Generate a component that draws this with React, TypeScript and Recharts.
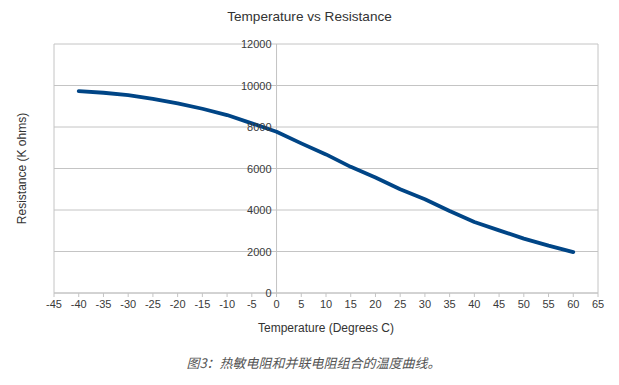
import React from "react";
import { LineChart, Line, XAxis, YAxis, CartesianGrid, ReferenceLine } from "recharts";

// temperature (degrees C) and resistance (K ohms)
const temps = [-40, -35, -30, -25, -20, -15, -10, -5, 0, 5, 10, 15, 20, 25, 30, 35, 40, 45, 50, 55, 60];
const resistance = [9730, 9650, 9540, 9360, 9140, 8880, 8575, 8175, 7770, 7210, 6680, 6080, 5570, 5000, 4520, 3950, 3420, 3020, 2620, 2280, 1970];

const xTicks = [-45, -40, -35, -30, -25, -20, -15, -10, -5, 0, 5, 10, 15, 20, 25, 30, 35, 40, 45, 50, 55, 60, 65];
const yTicks = [0, 2000, 4000, 6000, 8000, 10000, 12000];

const data = temps.map((t, i) => ({ temp: t, res: resistance[i] }));

const W = 619;
const H = 385;
const margin = { top: 44, right: 21, left: 0, bottom: 42 };
const Y_AXIS_W = 54;
const X_MIN = -45;
const X_MAX = 65;
const GRID = "#c4c4c4";
const FONT = "'Liberation Sans', Arial, sans-serif";

// the y axis crosses at x = 0, so its labels sit next to that line
const plotW = W - margin.left - margin.right - Y_AXIS_W;
const zeroOffset = ((0 - X_MIN) / (X_MAX - X_MIN)) * plotW;

const YTick = (props: any) => {
    const { y, payload } = props;
    return (
        <text
            x={margin.left + Y_AXIS_W + zeroOffset - 5}
            y={y}
            textAnchor="end"
            dominantBaseline="central"
            fontSize={11}
            fontFamily={FONT}
            fill="#3a3a3a"
        >
            {payload.value}
        </text>
    );
};

const YTitle = (props: any) => {
    const { viewBox } = props;
    const cx = viewBox.x + 22;
    const cy = viewBox.y + viewBox.height / 2;
    return (
        <text
            x={cx}
            y={cy}
            transform={`rotate(-90, ${cx}, ${cy})`}
            textAnchor="middle"
            dominantBaseline="central"
            fontSize={12}
            fontFamily={FONT}
            fill="#333"
        >
            Resistance (K ohms)
        </text>
    );
};

const XTitle = (props: any) => {
    const { viewBox } = props;
    return (
        <text
            x={viewBox.x + viewBox.width / 2}
            y={viewBox.y + 35}
            textAnchor="middle"
            dominantBaseline="central"
            fontSize={12}
            fontFamily={FONT}
            fill="#333"
        >
            Temperature (Degrees C)
        </text>
    );
};

export default function App() {
    return (
        <div style={{ position: "absolute", left: 0, top: 0, width: W, height: H, background: "#fff" }}>
            <div
                style={{
                    position: "absolute",
                    top: 9,
                    left: 0,
                    width: W,
                    textAlign: "center",
                    fontFamily: FONT,
                    fontSize: 13.6,
                    lineHeight: "16px",
                    color: "#333",
                }}
            >
                Temperature vs Resistance
            </div>
            <LineChart width={W} height={H} data={data} margin={margin}>
                <CartesianGrid vertical={false} stroke={GRID} />
                <XAxis
                    dataKey="temp"
                    type="number"
                    domain={[X_MIN, X_MAX]}
                    ticks={xTicks}
                    interval={0}
                    height={50}
                    stroke={GRID}
                    tickSize={4}
                    tickMargin={3}
                    tick={{ fontSize: 11, fontFamily: FONT, fill: "#3a3a3a" }}
                    label={{ content: XTitle }}
                />
                <YAxis
                    type="number"
                    domain={[0, 12000]}
                    ticks={yTicks}
                    interval={0}
                    width={Y_AXIS_W}
                    axisLine={false}
                    tickLine={false}
                    tick={YTick}
                    label={{ content: YTitle }}
                />
                <ReferenceLine x={X_MIN} stroke={GRID} />
                <ReferenceLine x={X_MAX} stroke={GRID} />
                <ReferenceLine x={0} stroke={GRID} />
                <Line
                    dataKey="res"
                    type="linear"
                    stroke="#004586"
                    strokeWidth={3.8}
                    strokeLinecap="round"
                    strokeLinejoin="round"
                    dot={false}
                    isAnimationActive={false}
                />
            </LineChart>
            <div
                style={{
                    position: "absolute",
                    top: 354,
                    left: 4,
                    width: W,
                    textAlign: "center",
                    fontFamily: "'Noto Sans CJK SC', sans-serif",
                    fontStyle: "italic",
                    fontSize: 13,
                    lineHeight: "18px",
                    color: "#555",
                }}
            >
                图3：热敏电阻和并联电阻组合的温度曲线。
            </div>
        </div>
    );
}
